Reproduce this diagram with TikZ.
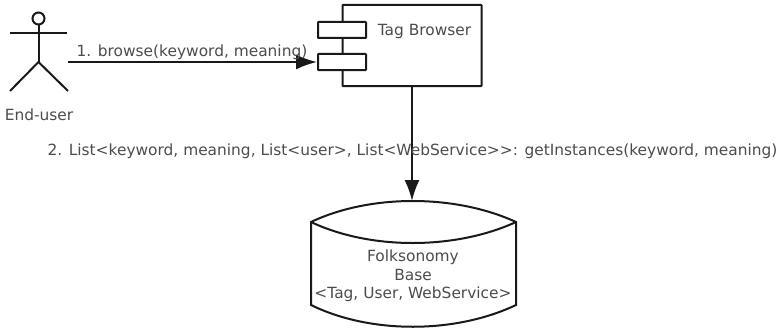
\documentclass[tikz,border=0pt]{standalone}
\usepackage{fontspec}
\setmainfont{DejaVu Sans}
\usetikzlibrary{arrows.meta}

\tikzset{
	umlline/.style={line width=2pt, color=black!90},
	umlbox/.style={draw, umlline, fill=white, inner sep=0pt, rounded corners=0.5pt},
	umllabel/.style={font=\fontsize{15.4}{18.5}\selectfont, text=black!70, inner sep=0pt, align=center},
	umlarrow/.style={umlline, -{Latex[length=21pt, width=15pt]}}
}

\begin{document}
\begin{tikzpicture}[x=1pt, y=-1pt]
	\useasboundingbox (0, 0) rectangle (778, 329);

	%End-user
	\coordinate (neck) at (38.5, 24);
	\coordinate (hip) at (38.5, 62);
	\coordinate (handleft) at (10, 33);
	\coordinate (handright) at (67, 33);
	\coordinate (footleft) at (10, 91);
	\coordinate (footright) at (68, 91);
	\coordinate (userhand) at (68, 62);
	\draw[umlline] (38.5, 18.5) circle(6pt);
	\draw[umlline] (neck) -- (hip);
	\draw[umlline] (handleft) -- (handright);
	\draw[umlline] (footleft) -- (hip) -- (footright);
	\node[umllabel] (enduser) at (39, 114.5) {End-user};

	%Tag Browser
	\node[umlbox, minimum width=139pt, minimum height=81pt] (tagbrowser) at (412, 45.5) {};
	\node[umlbox, minimum width=48pt, minimum height=16pt] (portone) at (342, 30) {};
	\node[umlbox, minimum width=48pt, minimum height=16pt] (porttwo) at (342, 62) {};
	\node[umllabel] (tagtitle) at (424.5, 31.5) {Tag Browser};

	%Folksonomy Base
	\coordinate (dbtop) at (412, 201);
	\draw[umlline] (311, 222) .. controls (370, 194) and (455, 194) .. (516, 222)
		-- (516, 305) .. controls (455, 334) and (370, 334) .. (311, 305) -- cycle;
	\draw[umlline] (311, 222) .. controls (370, 250) and (455, 250) .. (516, 222);
	\node[umllabel] (folksonomy) at (413, 276) {Folksonomy\\Base\\<Tag, User, WebService>};

	%Lines
	\draw[umlarrow] (userhand) -- (porttwo.west);
	\draw[umlarrow] (tagbrowser.south) -- (tagbrowser.south |- dbtop);

	%Messages
	\node[umllabel] (browsecall) at (192, 52) {1. browse(keyword, meaning)};
	\node[umllabel] (instancescall) at (412.5, 151) {2. List<keyword, meaning, List<user>, List<WebService>{}>: getInstances(keyword, meaning)};
\end{tikzpicture}
\end{document}
